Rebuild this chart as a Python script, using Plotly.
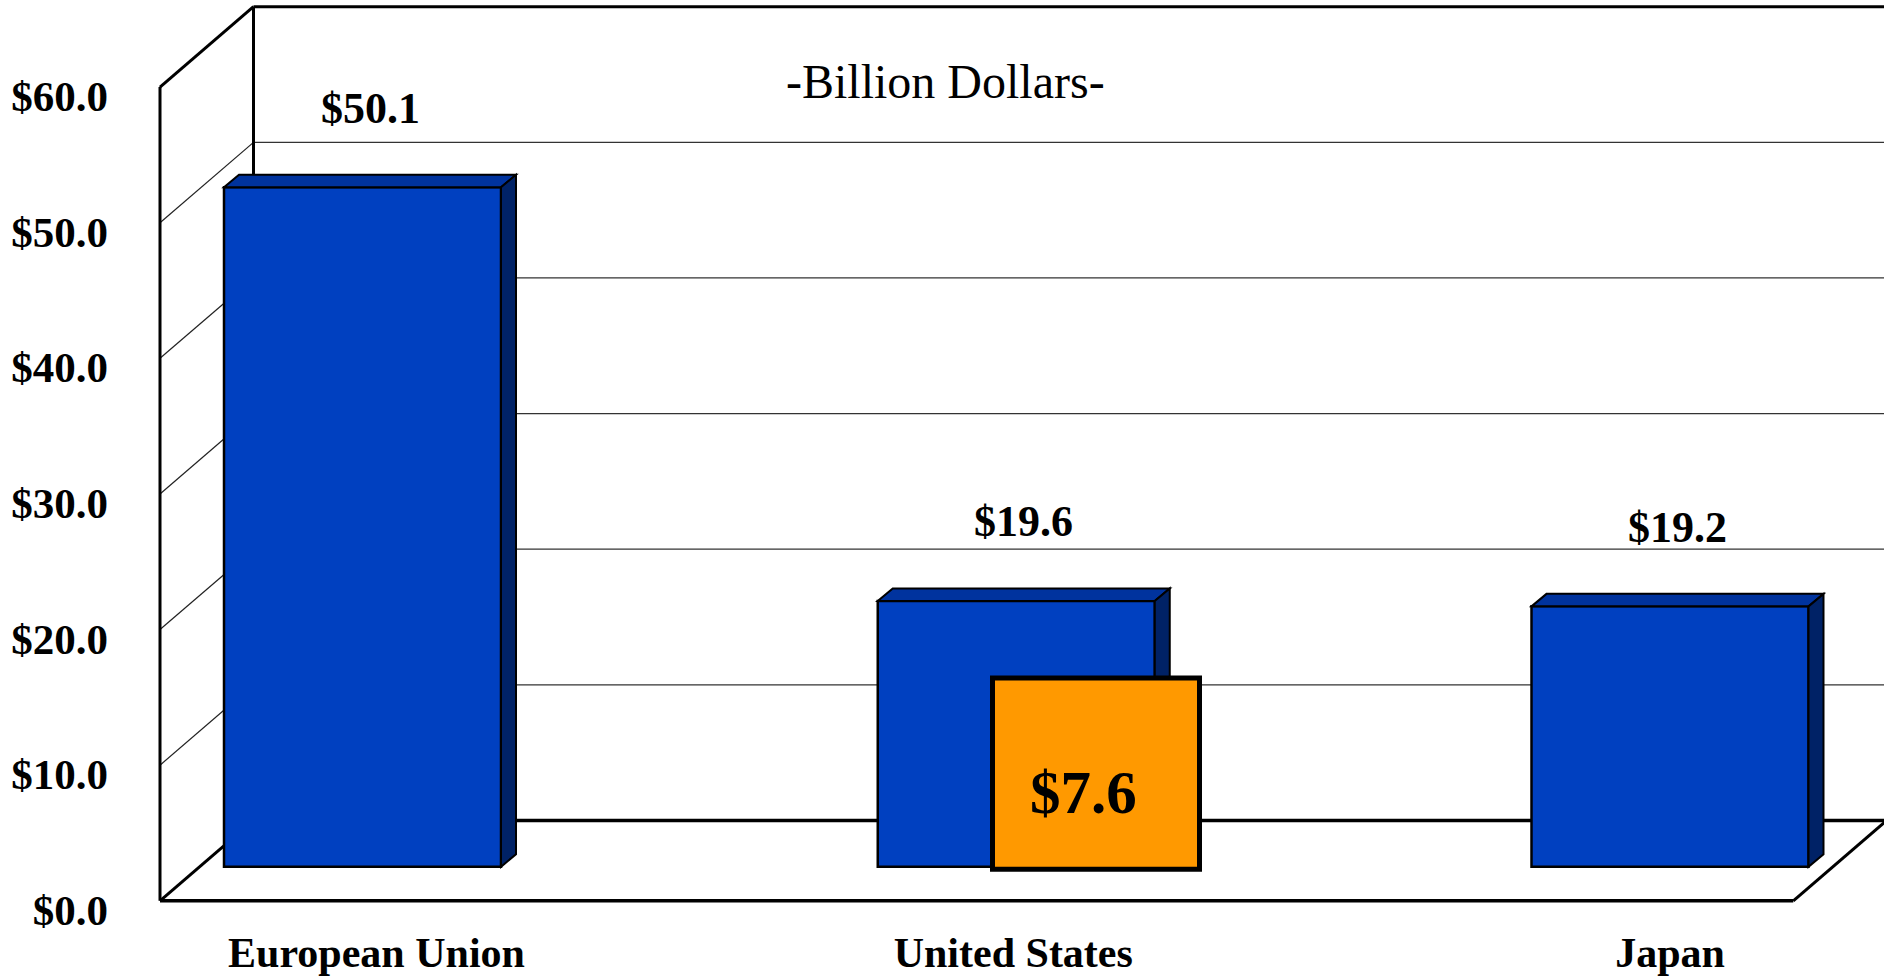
import plotly.graph_objects as go

# ---------------- data ----------------
categories = ["European Union", "United States", "Japan"]
values = [50.1, 19.6, 19.2]
value_labels = ["$50.1", "$19.6", "$19.2"]
callout_values = [7.6]          # highlighted figure shown on the United States bar
callout_labels = ["$7.6"]
y_tick_values = [0, 10, 20, 30, 40, 50, 60]
y_tick_labels = ["$0.0", "$10.0", "$20.0", "$30.0", "$40.0", "$50.0", "$60.0"]
unit_title = "-Billion Dollars-"

# ---------------- geometry / style ----------------
FONT = "Liberation Serif"
W, H = 1884, 976
SY = 1.005                # small vertical calibration
K = 13.55 * SY            # pixels per unit
BAR_ZERO_PX = 866.0 * SY  # pixel row of value 0 on the bar plane
CAT0_PX = 362.5           # pixel column of first category
STEP_PX = 653.75          # pixels between categories
BAR_W_PX = 277.0
BAR_DEPTH_PX = (15.0, 12.5 * SY)
WALL_X_FRONT_PX = 160.0
DEPTH_PX = (93.5, 80.3 * SY)
FRONT_DROP_PX = 34.0 * SY  # front plane lies this many px below bar plane
FLOOR_RIGHT_FRONT_PX = 1793.3
LABEL_DROP_PX = 9.0
CAT_LABEL_NUDGE_PX = [14.0, -3.0, 0.0]
Y_MAX = max(y_tick_values)

FRONT_COLOR = "#0040C0"
TOP_COLOR = "#00339E"
SIDE_COLOR = "#002266"
CALLOUT_COLOR = "#FF9900"


def xu(px):
    return (px - CAT0_PX) / STEP_PX


def dxu(px):
    return px / STEP_PX


def dyu(px):
    return px / K


def yu(py):
    return (BAR_ZERO_PX - py) / K


x_range = [xu(0), xu(W)]
y_range = [yu(H), yu(0)]
tick_zero_px = BAR_ZERO_PX + FRONT_DROP_PX + LABEL_DROP_PX
y2_range = [(tick_zero_px - H) / K, tick_zero_px / K]


def front(v):
    return v - dyu(FRONT_DROP_PX)


def back(v):
    return v - dyu(FRONT_DROP_PX) + dyu(DEPTH_PX[1])


xf = xu(WALL_X_FRONT_PX)
xb = xu(WALL_X_FRONT_PX + DEPTH_PX[0])
x_floor_rf = xu(FLOOR_RIGHT_FRONT_PX)
x_floor_rb = xu(FLOOR_RIGHT_FRONT_PX + DEPTH_PX[0])
x_right = xu(W + 10)

shapes = []


def line(x0, y0, x1, y1, w, color="black", layer="below"):
    shapes.append(dict(type="line", xref="x", yref="y", x0=x0, y0=y0, x1=x1, y1=y1,
                       line=dict(color=color, width=w), layer=layer))


# back wall gridlines & side wall diagonals
for v in y_tick_values:
    if v in (0, Y_MAX):
        continue
    line(xb, back(v), x_right, back(v), 1.2, "#333333")
    line(xf, front(v), xb, back(v), 1.2, "#222222")
# back wall frame
line(xb, back(Y_MAX), x_right, back(Y_MAX), 3)
line(xb, back(0), xb, back(Y_MAX), 3)
line(xb, back(0), x_right, back(0), 3.5)
# side wall frame
line(xf, front(0), xf, front(Y_MAX), 3)
line(xf, front(Y_MAX), xb, back(Y_MAX), 3)
line(xf, front(0), xb, back(0), 3)
# floor
line(xf, front(0), x_floor_rf, front(0), 3.5)
line(x_floor_rf, front(0), x_floor_rb, back(0), 3)

# 3D faces of bars
bw = dxu(BAR_W_PX)
ddx, ddy = dxu(BAR_DEPTH_PX[0]), dyu(BAR_DEPTH_PX[1])
for i, v in enumerate(values):
    x0, x1 = i - bw / 2, i + bw / 2
    shapes.append(dict(type="path", xref="x", yref="y", layer="above",
                       path=f"M {x0},{v} L {x1},{v} L {x1+ddx},{v+ddy} L {x0+ddx},{v+ddy} Z",
                       fillcolor=TOP_COLOR, line=dict(color="black", width=2)))
    shapes.append(dict(type="path", xref="x", yref="y", layer="above",
                       path=f"M {x1},0 L {x1},{v} L {x1+ddx},{v+ddy} L {x1+ddx},{ddy} Z",
                       fillcolor=SIDE_COLOR, line=dict(color="black", width=2)))

# callout box on the United States bar
box_x0, box_x1 = xu(992.5), xu(1199.5)
box_y0, box_y1 = yu(868.5 * SY), yu(677.5 * SY)
shapes.append(dict(type="rect", xref="x", yref="y", layer="above",
                   x0=box_x0, x1=box_x1, y0=box_y0, y1=box_y1,
                   fillcolor=CALLOUT_COLOR, line=dict(color="black", width=5)))

fig = go.Figure()
fig.add_trace(go.Bar(
    x=list(range(len(categories))), y=values, width=bw,
    marker=dict(color=FRONT_COLOR, line=dict(color="black", width=2.5)),
    hoverinfo="skip", showlegend=False,
))
# invisible trace to activate the y2 tick axis
fig.add_trace(go.Scatter(x=[0], y=[0], yaxis="y2", mode="markers",
                         marker=dict(opacity=0), hoverinfo="skip", showlegend=False))

annotations = []
for i, (v, t) in enumerate(zip(values, value_labels)):
    annotations.append(dict(x=i + ddx / 2, y=v, xref="x", yref="y", text=t, showarrow=False,
                            xanchor="center", yanchor="middle", yshift=79,
                            font=dict(family=FONT, size=44, color="black", weight="bold")))
annotations.append(dict(x=xu(1083), y=yu(791.5 * SY), xref="x", yref="y",
                        text=callout_labels[0], showarrow=False,
                        xanchor="center", yanchor="middle",
                        font=dict(family=FONT, size=61, color="black", weight="bold")))
annotations.append(dict(x=945 / W, y=1 - 82 / H, xref="paper", yref="paper", text=unit_title,
                        showarrow=False, xanchor="center", yanchor="middle",
                        font=dict(family=FONT, size=48, color="black")))

cat_tickvals = [i + dxu(n) for i, n in enumerate(CAT_LABEL_NUDGE_PX)]

fig.update_layout(
    width=W, height=H,
    margin=dict(l=0, r=0, t=0, b=0),
    paper_bgcolor="white", plot_bgcolor="white",
    showlegend=False, hovermode=False,
    shapes=shapes, annotations=annotations,
    xaxis=dict(range=x_range, tickvals=cat_tickvals, ticktext=categories,
               anchor="free", position=1 - 928 / H, showline=False, showgrid=False,
               zeroline=False, ticks="", ticklabelstandoff=0,
               tickfont=dict(family=FONT, size=42, color="black", weight="bold")),
    yaxis=dict(range=y_range, showgrid=False, zeroline=False, showticklabels=False,
               showline=False, ticks=""),
    yaxis2=dict(range=y2_range, overlaying="y", anchor="free", position=WALL_X_FRONT_PX / W,
                side="left", tickvals=y_tick_values, ticktext=y_tick_labels,
                showgrid=False, zeroline=False, showline=False, ticks="",
                ticklabelstandoff=52,
                tickfont=dict(family=FONT, size=43, color="black", weight="bold")),
)

fig.write_html(
    "out.html",
    config={"displayModeBar": False},
    post_script="document.body.style.margin='0px';document.body.style.overflow='hidden';",
)
